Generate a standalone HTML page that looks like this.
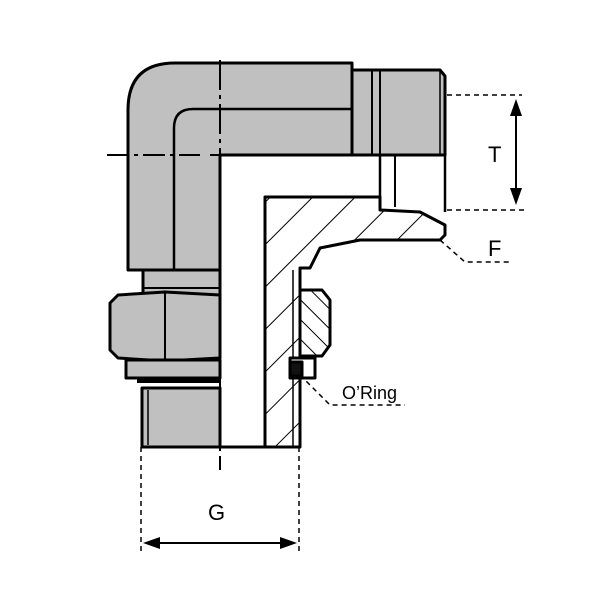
<!DOCTYPE html>
<html><head><style>body{margin:0;background:#fff}svg{display:block}</style></head><body>
<svg width="600" height="600" viewBox="0 0 600 600" xmlns="http://www.w3.org/2000/svg" font-family="Liberation Sans, sans-serif">
<defs>
<pattern id="h" patternUnits="userSpaceOnUse" width="30" height="30" patternTransform="rotate(45)">
<rect width="30" height="30" fill="#fff"/><line x1="0" y1="0" x2="0" y2="30" stroke="#000" stroke-width="2"/></pattern>
<pattern id="h2" patternUnits="userSpaceOnUse" width="14" height="14" patternTransform="rotate(-45)">
<rect width="14" height="14" fill="#fff"/><line x1="0" y1="0" x2="0" y2="14" stroke="#000" stroke-width="2"/></pattern>
</defs>
<g stroke="#000" stroke-width="3" fill="#c0c0c0" stroke-linejoin="round">
<path d="M128,270 L128,110 Q128,63 175,63 L352,63 L352,155 L220,155 L220,270 Z"/>
<path d="M174,270 L174,128 Q174,109 193,109 L352,109" fill="none" stroke-width="2.5"/>
<path d="M352,70 L440,70 L445,76 L445,155 L352,155 Z"/>
<line x1="372" y1="70" x2="372" y2="155" stroke-width="2"/>
<line x1="380" y1="70" x2="380" y2="155" stroke-width="2"/>
<line x1="440" y1="70" x2="440" y2="155" stroke-width="1.5"/>
<rect x="143" y="270" width="77" height="25"/>
<line x1="143" y1="288" x2="220" y2="288" stroke-width="2"/>
<path d="M118,295 L165,292 L220,295 L220,358 L165,361 L118,358 L110,350 L110,303 Z"/>
<line x1="165" y1="293" x2="165" y2="360" stroke-width="2"/>
<rect x="126" y="360" width="94" height="18"/>
<line x1="137" y1="381" x2="220" y2="381" stroke-width="4"/>
<rect x="142" y="388" width="78" height="59"/>
<line x1="148" y1="390" x2="148" y2="445" stroke-width="1.5"/>
</g>
<g stroke="#000" stroke-width="3" stroke-linejoin="round">
<path d="M265,197 L380,197 L380,210 L420,212 L445,225 L445,235 L440,240 L360,240 L320,248 L310,268 L300,268 L300,447 L265,447 Z" fill="url(#h)"/>
<line x1="293" y1="270" x2="293" y2="447" stroke-width="1.5"/>
<path d="M300,290 L322,290 L330,300 L330,345 L322,356 L300,356 Z" fill="url(#h2)"/>
<rect x="290" y="358" width="25" height="20" fill="#fff"/>
<rect x="290" y="362" width="12" height="14" fill="#111"/>
<line x1="266" y1="447" x2="300" y2="447"/>
<line x1="220" y1="447" x2="265" y2="447"/>
<line x1="380" y1="155" x2="380" y2="210" stroke-width="2.5"/>
<line x1="395" y1="155" x2="395" y2="207" stroke-width="2"/>
<line x1="445" y1="155" x2="445" y2="212" stroke-width="2.5"/>
</g>
<g stroke="#000" stroke-width="2" fill="none">
<path d="M107,155 L200,155 M210,155 L445,155" stroke-dasharray="22,5,4,5"/>
<path d="M220,60 L220,470" stroke-dasharray="30,5,4,5"/>
</g>
<g stroke="#000" stroke-width="1.5" fill="none" stroke-dasharray="5,4">
<line x1="141" y1="447" x2="141" y2="555"/>
<line x1="299" y1="447" x2="299" y2="555"/>
<line x1="447" y1="95" x2="522" y2="95"/>
<line x1="447" y1="210" x2="525" y2="210"/>
<path d="M440,240 L465,262 L512,262"/>
<path d="M300,375 L330,405 L405,405"/>
</g>
<g stroke="#000" stroke-width="2">
<line x1="150" y1="543" x2="290" y2="543"/>
<line x1="516" y1="106" x2="516" y2="198"/>
</g>
<g fill="#000">
<path d="M143,543 L160,537 L160,549 Z"/>
<path d="M297,543 L280,537 L280,549 Z"/>
<path d="M516,99 L510,116 L522,116 Z"/>
<path d="M516,205 L510,188 L522,188 Z"/>
</g>
<g font-size="22" fill="#000">
<text x="208" y="520">G</text>
<text x="488" y="162">T</text>
<text x="488" y="256">F</text>
<text x="342" y="399" font-size="18">O’Ring</text>
</g>
</svg>
</body></html>
